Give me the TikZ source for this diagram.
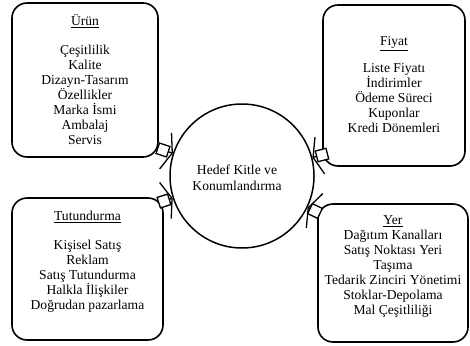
\documentclass[tikz,border=0pt]{standalone}
\usepackage{fontspec}
\setmainfont{Liberation Serif}
\usetikzlibrary{positioning,arrows.meta}

\tikzset{
    kutu/.style={draw, line width=1.6pt, rounded corners=15pt, inner sep=0pt},
    liste/.style={align=center, inner sep=0pt, font=\fontsize{13.6}{15}\selectfont},
    kare/.style={draw, fill=white, line width=1.3pt, minimum size=11pt, inner sep=0pt},
    bag/.style={line width=1.3pt, -{Straight Barb[length=7pt,width=38pt,line width=1.3pt]}},
}

\begin{document}
\begin{tikzpicture}[x=1pt, y=-1pt]
    \useasboundingbox (0,0) rectangle (470,345);

    % merkez
    \node [draw, circle, line width=1.5pt, minimum size=144pt, inner sep=0pt] (hedef) at (242,176) {};
    \node [liste, font=\fontsize{13.6}{16.5}\selectfont] (hedefyazi) at (237,178) {Hedef Kitle ve\\Konumlandırma};

    % kutular
    \node [kutu, minimum width=146pt, minimum height=154pt] (urun) at (85,80) {};
    \node [kutu, minimum width=142pt, minimum height=161pt] (fiyat) at (394,85.5) {};
    \node [kutu, minimum width=151pt, minimum height=142pt] (tutun) at (87.5,269) {};
    \node [kutu, minimum width=150pt, minimum height=138pt] (yer) at (393,273) {};

    \node [liste, below=12pt of urun.north] (urunyazi)
        {\underline{Ürün}\\[14pt] Çeşitlilik\\Kalite\\Dizayn-Tasarım\\Özellikler\\Marka İsmi\\Ambalaj\\Servis};
    \node [liste, below=32pt of fiyat.north] (fiyatyazi)
        {\underline{Fiyat}\\[12pt] Liste Fiyatı\\İndirimler\\Ödeme Süreci\\Kuponlar\\Kredi Dönemleri};
    \node [liste, below=14pt of tutun.north] (tutunyazi)
        {\underline{Tutundurma}\\[14pt] Kişisel Satış\\Reklam\\Satış Tutundurma\\Halkla İlişkiler\\Doğrudan pazarlama};
    \node [liste, below=12pt of yer.north] (yeryazi)
        {\underline{Yer}\\Dağıtım Kanalları\\Satış Noktası Yeri\\Taşıma\\Tedarik Zinciri Yönetimi\\Stoklar-Depolama\\Mal Çeşitliliği};

    % baglantilar
    \coordinate (k1) at (163,150);
    \coordinate (k2) at (322,155);
    \coordinate (k3) at (164,201);
    \coordinate (k4) at (315,211);

    \draw [bag] (k1) -- (hedef) node [kare, pos=0, sloped] (s1) {};
    \draw [bag] (k2) -- (hedef) node [kare, pos=0, sloped] (s2) {};
    \draw [bag] (k3) -- (hedef) node [kare, pos=0, sloped] (s3) {};
    \draw [bag] (k4) -- (hedef) node [kare, pos=0, sloped] (s4) {};
\end{tikzpicture}
\end{document}
